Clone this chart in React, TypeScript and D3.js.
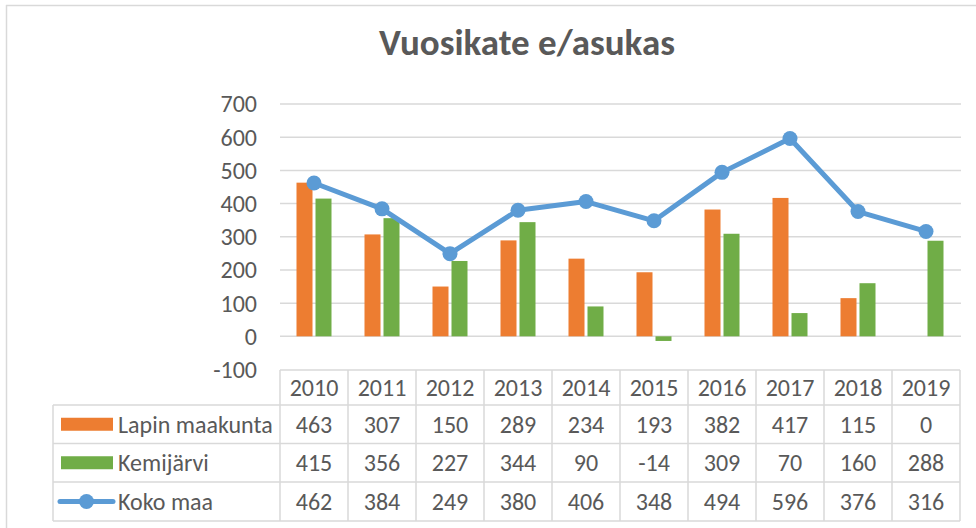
import React from "react";
import * as d3 from "d3";

const years = ["2010","2011","2012","2013","2014","2015","2016","2017","2018","2019"];
const lapin = [463, 307, 150, 289, 234, 193, 382, 417, 115, 0];
const kemijarvi = [415, 356, 227, 344, 90, -14, 309, 70, 160, 288];
const kokoMaa = [462, 384, 249, 380, 406, 348, 494, 596, 376, 316];
const yTicks = [-100, 0, 100, 200, 300, 400, 500, 600, 700];
const seriesNames = ["Lapin maakunta", "Kemijärvi", "Koko maa"];

const W = 976, H = 528;
const FONT = "Calibri, Carlito, 'Liberation Sans', Arial, sans-serif";
const TXT = "#595959";
const GRID = "#d9d9d9";
const ORANGE = "#ED7D31", GREEN = "#70AD47", BLUE = "#5B9BD5";
const FS = 24;

export default function App() {
  const x = d3.scaleBand<string>().domain(years).range([280, 960]).padding(0);
  const y = d3.scaleLinear().domain([-100, 700]).range([369.5, 104]);
  const bw = 16, gap = 3;
  const cx = (yr: string) => (x(yr) as number) + x.bandwidth() / 2;
  const line = d3.line<number>().x((_, i) => cx(years[i])).y(v => y(v));

  const headerTop = 370, headerBot = 405;
  const rows = [405, 443.5, 482, 521];
  const legendLeft = 53;

  return (
    <svg width={W} height={H} style={{ position: "absolute", left: 0, top: 0, background: "#fff" }} fontFamily={FONT}>
      <rect x={0} y={0} width={W} height={H} fill="#fff" />
      <line x1={6.5} y1={5} x2={6.5} y2={H} stroke={GRID} strokeWidth={1.5} />
      <line x1={6} y1={5.5} x2={W} y2={5.5} stroke={GRID} strokeWidth={1.5} />
      <text x={527} y={55} textAnchor="middle" fontSize={37} fontWeight="bold" fill={TXT}>Vuosikate e/asukas</text>

      {yTicks.filter(t => t > -100).map(t => (
        <line key={"g" + t} x1={280} x2={961} y1={y(t)} y2={y(t)} stroke={GRID} strokeWidth={1.5} />
      ))}
      {yTicks.map(t => (
        <text key={"t" + t} x={257} y={y(t)} dy="0.35em" textAnchor="end" fontSize={FS} fill={TXT}>{t}</text>
      ))}

      {years.map((yr, i) => (
        <g key={"b" + yr}>
          <rect x={cx(yr) - gap / 2 - bw} width={bw} y={Math.min(y(lapin[i]), y(0))} height={Math.abs(y(lapin[i]) - y(0))} fill={ORANGE} />
          <rect x={cx(yr) + gap / 2} width={bw} y={Math.min(y(kemijarvi[i]), y(0))} height={Math.abs(y(kemijarvi[i]) - y(0))} fill={GREEN} />
        </g>
      ))}
      <path d={line(kokoMaa) || ""} fill="none" stroke={BLUE} strokeWidth={5} strokeLinejoin="round" />
      {kokoMaa.map((v, i) => (
        <circle key={"c" + i} cx={cx(years[i])} cy={y(v)} r={7.5} fill={BLUE} />
      ))}

      {/* data table */}
      <g stroke={GRID} strokeWidth={1.5} fill="none">
        <line x1={280} x2={960} y1={headerTop} y2={headerTop} />
        <line x1={legendLeft} x2={960} y1={headerBot} y2={headerBot} />
        {rows.slice(1).map(r => <line key={"r" + r} x1={legendLeft} x2={960} y1={r} y2={r} />)}
        <line x1={legendLeft} x2={legendLeft} y1={headerBot} y2={rows[3]} />
        {years.map(yr => <line key={"v" + yr} x1={x(yr) as number} x2={x(yr) as number} y1={headerTop} y2={rows[3]} />)}
        <line x1={960} x2={960} y1={headerTop} y2={rows[3]} />
      </g>
      {years.map(yr => (
        <text key={"h" + yr} x={cx(yr)} y={(headerTop + headerBot) / 2} dy="0.35em" textAnchor="middle" fontSize={FS} fill={TXT}>{yr}</text>
      ))}
      {[lapin, kemijarvi, kokoMaa].map((arr, ri) => (
        <g key={"row" + ri}>
          {arr.map((v, i) => (
            <text key={i} x={cx(years[i])} y={(rows[ri] + rows[ri + 1]) / 2} dy="0.35em" textAnchor="middle" fontSize={FS} fill={TXT}>{v}</text>
          ))}
          <text x={118} y={(rows[ri] + rows[ri + 1]) / 2} dy="0.35em" fontSize={FS} fill={TXT}>{seriesNames[ri]}</text>
        </g>
      ))}
      <rect x={61} y={(rows[0] + rows[1]) / 2 - 6.5} width={52} height={13} fill={ORANGE} />
      <rect x={61} y={(rows[1] + rows[2]) / 2 - 6.5} width={52} height={13} fill={GREEN} />
      <line x1={60} x2={113} y1={(rows[2] + rows[3]) / 2} y2={(rows[2] + rows[3]) / 2} stroke={BLUE} strokeWidth={5} strokeLinecap="round" />
      <circle cx={86.5} cy={(rows[2] + rows[3]) / 2} r={7.5} fill={BLUE} />
    </svg>
  );
}
